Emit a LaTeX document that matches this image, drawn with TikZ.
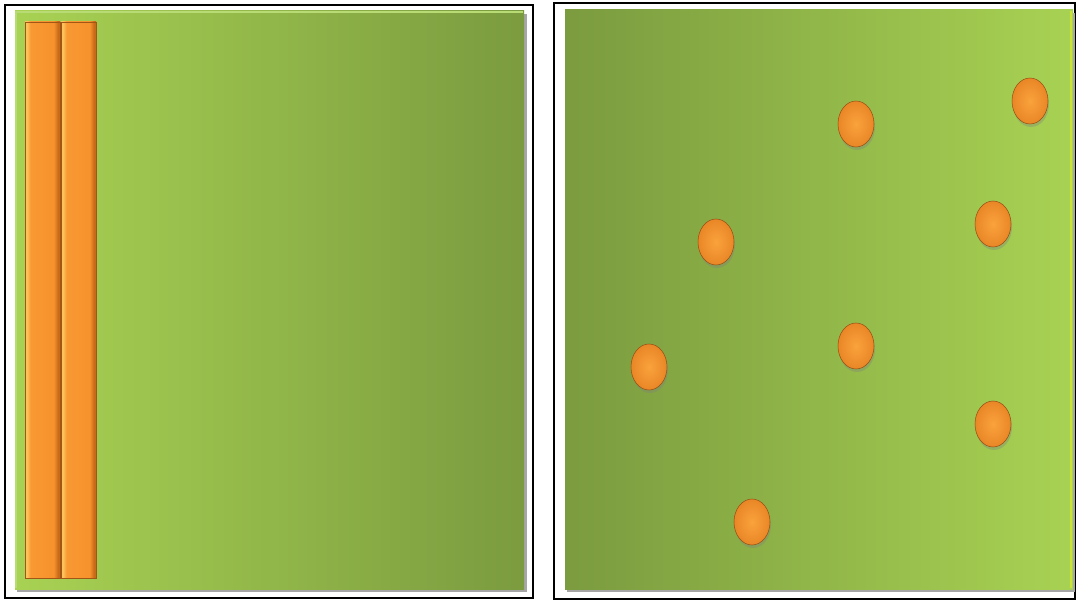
\documentclass[tikz,border=0pt]{standalone}
\usepackage{xcolor}

\definecolor{grnlight}{HTML}{A8D253}
\definecolor{grndark}{HTML}{7B9B3F}
\definecolor{orglight}{HTML}{FFC15A}
\definecolor{orgmid}{HTML}{F7922C}
\definecolor{orgdark}{HTML}{C96B1A}

\pgfdeclarehorizontalshading{barshade}{100bp}{
    color(0bp)=(orglight); color(28bp)=(orglight);
    color(33bp)=(orgmid!85!orglight); color(66bp)=(orgmid);
    color(72bp)=(orgdark); color(100bp)=(orgdark)}

\begin{document}
\begin{tikzpicture}[x=0.02cm, y=-0.02cm,
    frame/.style={draw=black, line width=1.1pt},
    shadowbox/.style={fill=black!35},
    bar/.style={shading=barshade, draw=orgdark!80!black, line width=0.3pt},
    pellet/.style={inner color=orgmid!65!orglight, outer color=orgmid!70!orgdark, draw=orgdark!75!black, line width=0.3pt}]
    \useasboundingbox (0,0) rectangle (1076,601);
    \fill[white] (0,0) rectangle (1076,601);

    % left panel
    \draw[frame] (5,5) rectangle (533,598);
    \fill[shadowbox] (17,14) rectangle (527,592);
    \shade[left color=grnlight, right color=grndark] (15,11) rectangle (524,589);
    \draw[grnlight!80!white, line width=1pt] (16,588) -- (16,12) -- (523,12);
    \shade[bar] (25,22) rectangle (60,578);
    \shade[bar] (61,22) rectangle (96,578);

    % right panel
    \draw[frame] (554,3) rectangle (1075,599);
    \fill[shadowbox] (567,13) rectangle (1075,592);
    \shade[left color=grndark, right color=grnlight] (565,10) rectangle (1073,589);
    \draw[grnlight!60!yellow, line width=1.6pt] (1071,11) -- (1071,588);
    \foreach \px/\py in {856/124, 1030/101, 716/242, 993/224, 649/367, 856/346, 993/424, 752/522} {
        \fill[black!50, opacity=0.35] (\px+1,\py+3) ellipse (18 and 23);
        \shade[pellet] (\px,\py) ellipse (18 and 23);
    }
\end{tikzpicture}
\end{document}
